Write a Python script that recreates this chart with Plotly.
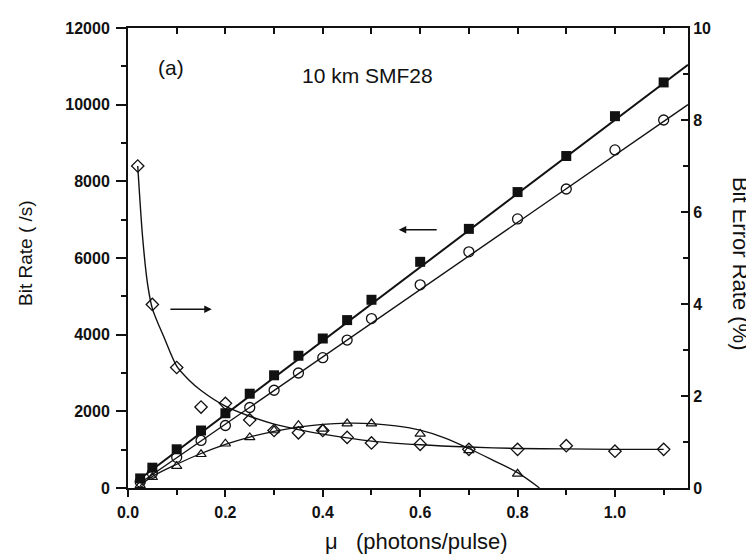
import plotly.graph_objects as go

# ---------------- data ----------------
mu = [0.025, 0.05, 0.1, 0.15, 0.2, 0.25, 0.3, 0.35, 0.4, 0.45, 0.5, 0.6, 0.7, 0.8, 0.9, 1.0, 1.1]
rate_square = [250, 530, 1010, 1500, 1950, 2460, 2940, 3450, 3900, 4380, 4910, 5900, 6760, 7720, 8660, 9700, 10580]
rate_circle = [160, 385, 800, 1240, 1630, 2100, 2550, 3000, 3400, 3860, 4420, 5300, 6160, 7020, 7800, 8820, 9600]

mu_tri = [0.025, 0.05, 0.1, 0.15, 0.2, 0.25, 0.3, 0.35, 0.4, 0.45, 0.5, 0.6, 0.7, 0.8]
rate_triangle = [70, 280, 570, 880, 1155, 1320, 1500, 1640, 1540, 1680, 1680, 1410, 980, 370]

mu_dia = [0.02, 0.05, 0.1, 0.15, 0.2, 0.25, 0.3, 0.35, 0.4, 0.45, 0.5, 0.6, 0.7, 0.8, 0.9, 1.0, 1.1]
ber_diamond = [7.0, 3.99, 2.62, 1.76, 1.84, 1.48, 1.25, 1.20, 1.25, 1.10, 0.98, 0.95, 0.84, 0.84, 0.92, 0.80, 0.84]

# fitted curves as drawn in the figure
fit_lin_x = [0.025, 1.15]
fit_square_y = [240, 11040]
fit_circle_y = [130, 10000]

fit_tri_x = [0.025, 0.05, 0.1, 0.15, 0.2, 0.25, 0.3, 0.35, 0.4, 0.45, 0.5, 0.55, 0.6, 0.65, 0.7, 0.75, 0.8, 0.845]
fit_tri_y = [60, 300, 620, 900, 1140, 1330, 1480, 1590, 1660, 1690, 1680, 1620, 1510, 1310, 1030, 720, 400, 0]

fit_ber_x = [0.02, 0.03, 0.04, 0.05, 0.075, 0.1, 0.125, 0.15, 0.2, 0.25, 0.3, 0.35, 0.4, 0.5, 0.6, 0.7, 0.8, 0.9, 1.0, 1.1]
fit_ber_y = [7.0, 5.45, 4.45, 3.9, 3.25, 2.65, 2.35, 2.12, 1.78, 1.56, 1.39, 1.27, 1.17, 1.02, 0.94, 0.89, 0.86, 0.85, 0.84, 0.84]

x_tick_vals = [0.0, 0.2, 0.4, 0.6, 0.8, 1.0]
x_tick_text = ["0.0", "0.2", "0.4", "0.6", "0.8", "1.0"]
y_tick_vals = [0, 2000, 4000, 6000, 8000, 10000, 12000]
y_tick_text = ["0", "2000", "4000", "6000", "8000", "10000", "12000"]
y2_tick_vals = [0, 2, 4, 6, 8, 10]
y2_tick_text = ["0", "2", "4", "6", "8", "10"]

FONT = "Liberation Sans, Arial, sans-serif"
BLACK = "#111111"

fig = go.Figure()

# fit lines
fig.add_trace(go.Scatter(x=fit_lin_x, y=fit_square_y, mode="lines",
                         line=dict(color=BLACK, width=2), showlegend=False, hoverinfo="skip"))
fig.add_trace(go.Scatter(x=fit_lin_x, y=fit_circle_y, mode="lines",
                         line=dict(color=BLACK, width=1.4), showlegend=False, hoverinfo="skip"))
fig.add_trace(go.Scatter(x=fit_tri_x, y=fit_tri_y, mode="lines", line_shape="spline",
                         line=dict(color=BLACK, width=1.3), showlegend=False, hoverinfo="skip"))
fig.add_trace(go.Scatter(x=fit_ber_x, y=fit_ber_y, mode="lines", line_shape="spline", yaxis="y2",
                         line=dict(color=BLACK, width=1.4, smoothing=0.8), showlegend=False, hoverinfo="skip"))

# data markers
fig.add_trace(go.Scatter(x=mu, y=rate_square, mode="markers",
                         marker=dict(symbol="square", size=10, color=BLACK), showlegend=False))
fig.add_trace(go.Scatter(x=mu, y=rate_circle, mode="markers",
                         marker=dict(symbol="circle-open", size=10, color=BLACK, line=dict(width=1.3)),
                         showlegend=False))
fig.add_trace(go.Scatter(x=mu_tri, y=rate_triangle, mode="markers",
                         marker=dict(symbol="triangle-up-open", size=9, color=BLACK, line=dict(width=1.2)),
                         showlegend=False))
fig.add_trace(go.Scatter(x=mu_dia, y=ber_diamond, mode="markers", yaxis="y2",
                         marker=dict(symbol="diamond-open", size=9.5, color=BLACK, line=dict(width=1.3)),
                         showlegend=False))
# dummy trace for the top axis
fig.add_trace(go.Scatter(x=[0.5], y=[0], xaxis="x2", mode="markers",
                         marker=dict(opacity=0), showlegend=False, hoverinfo="skip"))

tickfont = dict(family=FONT, size=16, color=BLACK, weight="bold")

fig.update_layout(
    width=754, height=558,
    margin=dict(l=120, r=74, t=16, b=78),
    paper_bgcolor="white", plot_bgcolor="white",
    font=dict(family=FONT, color=BLACK),
    xaxis=dict(range=[0, 1.15], showgrid=False, zeroline=False,
               showline=True, linewidth=2, linecolor=BLACK,
               tickvals=x_tick_vals, ticktext=x_tick_text,
               ticks="outside", ticklen=7, tickwidth=1.5, tickcolor=BLACK,
               minor=dict(dtick=0.1, tick0=0, ticks="outside", ticklen=5, tickwidth=1.5, tickcolor=BLACK),
               tickfont=tickfont, ticklabelstandoff=2),
    xaxis2=dict(range=[0, 1.15], overlaying="x", side="top", anchor="y", showgrid=False, zeroline=False,
                showline=True, linewidth=2, linecolor=BLACK, showticklabels=False,
                dtick=0.1, tick0=0, ticks="inside", ticklen=6, tickwidth=1.5, tickcolor=BLACK),
    yaxis=dict(range=[0, 12000], showgrid=False, zeroline=False,
               showline=True, linewidth=2, linecolor=BLACK,
               tickvals=y_tick_vals, ticktext=y_tick_text,
               ticks="outside", ticklen=10, tickwidth=1.5, tickcolor=BLACK,
               minor=dict(dtick=1000, tick0=0, ticks="outside", ticklen=5, tickwidth=1.5, tickcolor=BLACK),
               tickfont=tickfont, ticklabelstandoff=3),
    yaxis2=dict(range=[0, 10], overlaying="y", side="right", anchor="x", showgrid=False, zeroline=False,
                showline=True, linewidth=2, linecolor=BLACK,
                tickvals=y2_tick_vals, ticktext=y2_tick_text,
                ticks="inside", ticklen=7, tickwidth=1.5, tickcolor=BLACK,
                minor=dict(dtick=1, tick0=0, ticks="inside", ticklen=5, tickwidth=1.5, tickcolor=BLACK),
                tickfont=tickfont, ticklabelstandoff=0),
)

# axis titles (as annotations for exact placement / orientation)
fig.add_annotation(text="Bit Rate ( /s)", xref="paper", yref="paper", x=-0.183, y=0.51,
                   textangle=-90, showarrow=False, font=dict(family=FONT, size=19, color=BLACK),
                   xanchor="center", yanchor="middle")
fig.add_annotation(text="Bit Error Rate (%)", xref="paper", yref="paper", x=1.093, y=0.487,
                   textangle=90, showarrow=False, font=dict(family=FONT, size=22, color=BLACK),
                   xanchor="center", yanchor="middle")
fig.add_annotation(text="\u03bc   (photons/pulse)", xref="paper", yref="paper", x=0.515, y=-0.116,
                   showarrow=False, font=dict(family=FONT, size=22, color=BLACK),
                   xanchor="center", yanchor="middle")

# in-plot labels
fig.add_annotation(text="(a)", x=0.088, y=10960, xref="x", yref="y", showarrow=False,
                   font=dict(family=FONT, size=21, color=BLACK))
fig.add_annotation(text="10 km SMF28", x=0.491, y=10750, xref="x", yref="y", showarrow=False,
                   font=dict(family=FONT, size=21, color=BLACK))

# arrows
fig.add_annotation(x=0.556, y=6740, ax=0.637, ay=6740, xref="x", yref="y", axref="x", ayref="y",
                   text="", showarrow=True, arrowhead=2, arrowsize=1, arrowwidth=1.5, arrowcolor=BLACK)
fig.add_annotation(x=0.172, y=4665, ax=0.084, ay=4665, xref="x", yref="y", axref="x", ayref="y",
                   text="", showarrow=True, arrowhead=2, arrowsize=1, arrowwidth=1.5, arrowcolor=BLACK)

fig.write_html("out.html")
